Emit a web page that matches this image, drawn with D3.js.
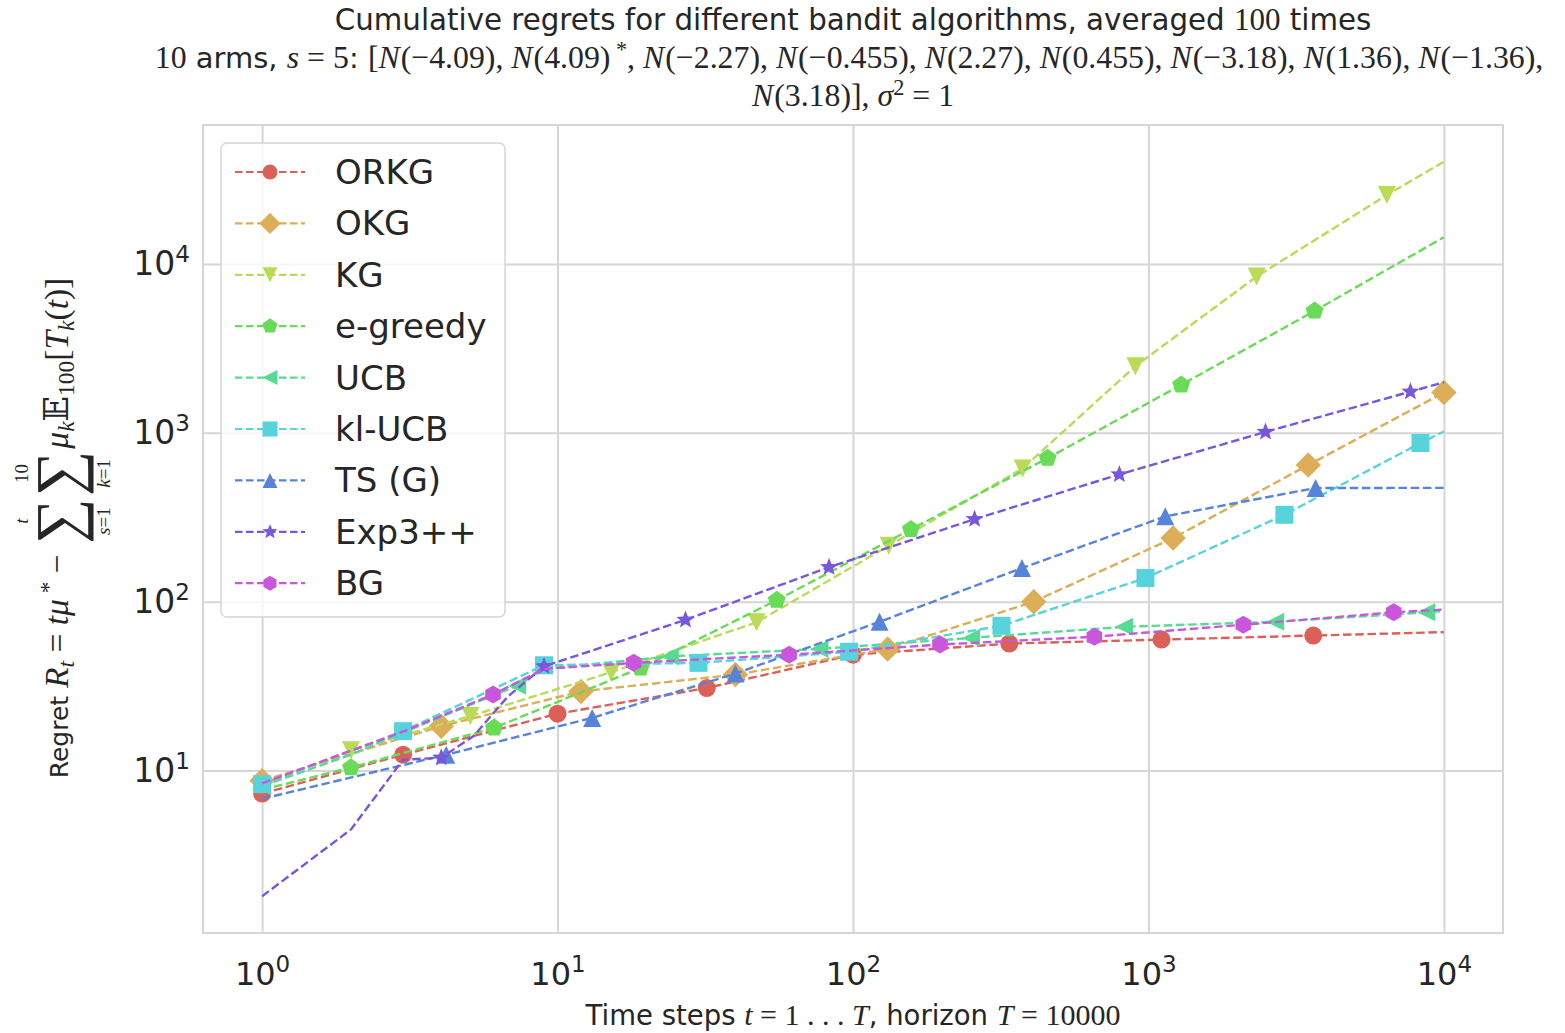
<!DOCTYPE html>
<html>
<head>
<meta charset="utf-8">
<script src="https://cdn.jsdelivr.net/npm/d3@7"></script>
<style>
  body { margin: 0; background: #fff; }
  text { fill: #262626; white-space: pre; }
</style>
</head>
<body>
<svg id="chart"></svg>
<script>
// ---- data ----
var algos   = ['ORKG', 'OKG', 'KG', 'e-greedy', 'UCB', 'kl-UCB', 'TS (G)', 'Exp3++', 'BG'];
var armMeans = [-4.09, 4.09, -2.27, -0.455, 2.27, 0.455, -3.18, 1.36, -1.36, 3.18];
var bestArm = 1;
var xTicks = [1, 10, 100, 1000, 10000];
var yTicks = [10, 100, 1000, 10000];

// each series: [t, regret]; the *Marks arrays list the t where a marker sits
var orkg = [[1,7.3],[3,12.4],[10,21.7],[32,30.8],[100,48.5],[338,56.5],[1107,59.6],[3612,63],[10000,66]];
var orkgMarks = [1,3,10,32,100,338,1107,3612];

var okg = [[1,8.7],[4.04,18.3],[12,29.4],[40,37],[131,52.5],[409,100],[1212,238],[3475,645],[10000,1730]];
var okgMarks = [1,4.04,12,40,131,409,1212,3475,10000];

var kg = [[1,8.2],[2,13.2],[5.07,21],[15.2,38.2],[47.2,75.5],[132,214],[375,615],[903,2480],[2323,8420],[6410,25600],[10000,40300]];
var kgMarks = [2,5.07,15.2,47.2,132,375,903,2323,6410];

var egreedy = [[1,7.7],[2,10.4],[6.1,17.9],[19.1,40.5],[55.2,102],[157,268],[456,708],[1291,1923],[3650,5270],[10000,14400]];
var egreedyMarks = [2,6.1,19.1,55.2,157,456,1291,3650];

var ucb = [[1,8.1],[2,12.4],[3,16.8],[7.3,31.8],[9,40],[24,47.4],[77,52.5],[251,61],[827,71],[2686,76],[8710,86.5],[10000,88]];
var ucbMarks = [1,7.3,24,77,251,827,2686,8710];

var klucb = [[1,8.3],[3,17.1],[9,42],[30,43.4],[97,50.5],[318,72],[977,138],[2885,327],[8330,870],[10000,1018]];
var klucbMarks = [1,3,9,30,97,318,977,2885,8330];

var ts = [[1,6.8],[4.2,12.4],[13.1,20.5],[40,37.5],[123,76],[373,158],[1140,320],[3680,471],[10000,472]];
var tsMarks = [4.2,13.1,40,123,373,1140,3680];

var exp3 = [[1,1.8],[2,4.48],[3,11.6],[4.04,11.9],[5.2,16],[6.8,27.5],[9,41.4],[27.1,78],[83,160],[258,308],[797,567],[2490,1012],[7700,1752],[10000,1990]];
var exp3Marks = [4.04,9,27.1,83,258,797,2490,7700];

var bg = [[1,8.4],[3,17],[6.05,28.2],[9,40],[18.1,43.4],[60.8,48.5],[197,55.7],[656,62],[2094,73],[6760,86.5],[10000,89.8]];
var bgMarks = [6.05,18.1,60.8,197,656,2094,6760];

var seriesData  = [orkg, okg, kg, egreedy, ucb, klucb, ts, exp3, bg];
var seriesMarks = [orkgMarks, okgMarks, kgMarks, egreedyMarks, ucbMarks, klucbMarks, tsMarks, exp3Marks, bgMarks];

// ---- style ----
var colors  = ['#db6057', '#dbae57', '#b9db57', '#69db57', '#57db94', '#57d3db', '#5784db', '#7957db', '#c957db'];
var shapes  = ['o', 'D', 'v', 'p', '<', 's', '^', '*', 'h'];
var width = 1565, height = 1033;
var plotL = 203, plotR = 1503, plotT = 125, plotB = 933;
var sans = 'DejaVu Sans, sans-serif';
var serif = 'Liberation Serif, DejaVu Serif, serif';
var gridColor = '#d6d6d6';
var dash = '8.5,3.7';

var svg = d3.select('#chart').attr('width', width).attr('height', height);

// log extent padded by 5% on each side, like matplotlib autoscale
function padLog(ext) {
  var a = Math.log10(ext[0]), b = Math.log10(ext[1]), m = (b - a) * 0.05;
  return [Math.pow(10, a - m), Math.pow(10, b + m)];
}
var allPts = d3.merge(seriesData);
var x = d3.scaleLog().domain(padLog(d3.extent(allPts, d => d[0]))).range([plotL, plotR]);
var y = d3.scaleLog().domain(padLog(d3.extent(allPts, d => d[1]))).range([plotB, plotT]);

// ---- grid ----
var xAxis = d3.axisBottom(x).tickValues(xTicks).tickSize(-(plotB - plotT)).tickFormat('');
var yAxis = d3.axisLeft(y).tickValues(yTicks).tickSize(-(plotR - plotL)).tickFormat('');

var gx = svg.append('g').attr('transform', 'translate(0,' + plotB + ')').call(xAxis);
var gy = svg.append('g').attr('transform', 'translate(' + plotL + ',0)').call(yAxis);
[gx, gy].forEach(function(g) {
  g.select('.domain').remove();
  g.selectAll('.tick line').attr('stroke', gridColor).attr('stroke-width', 2);
});

// tick labels 10^k
function powLabel(t, d) {
  t.append('tspan').text('10');
  t.append('tspan').attr('dy', -13).style('font-size', '23px').text(Math.round(Math.log10(d)));
}
gx.selectAll('.tick').append('text')
  .attr('y', 52).attr('text-anchor', 'middle')
  .style('font-family', sans).style('font-size', '32px')
  .each(function(d) { powLabel(d3.select(this), d); });
gy.selectAll('.tick').append('text')
  .attr('x', -13).attr('dy', 11).attr('text-anchor', 'end')
  .style('font-family', sans).style('font-size', '33px')
  .each(function(d) { powLabel(d3.select(this), d); });

// frame
svg.append('rect')
  .attr('x', plotL).attr('y', plotT)
  .attr('width', plotR - plotL).attr('height', plotB - plotT)
  .attr('fill', 'none').attr('stroke', gridColor).attr('stroke-width', 2);

// ---- markers shaped like matplotlib's ----
function markerPath(type, ms) {
  var h = ms / 2, pts, i;
  function poly(n, r) {
    var a = [];
    for (i = 0; i < n; i++) {
      var ang = i * 2 * Math.PI / n;
      a.push([r * Math.sin(ang), -r * Math.cos(ang)]);
    }
    return a;
  }
  switch (type) {
    case 'o': return d3.symbol(d3.symbolCircle, Math.PI * h * h)();
    case 's': pts = [[-h, -h], [h, -h], [h, h], [-h, h]]; break;
    case 'D': var d = h * Math.SQRT2; pts = [[0, -d], [d, 0], [0, d], [-d, 0]]; break;
    case '^': pts = [[0, -h], [h, h], [-h, h]]; break;
    case 'v': pts = [[0, h], [h, -h], [-h, -h]]; break;
    case '<': pts = [[-h, 0], [h, -h], [h, h]]; break;
    case 'p': pts = poly(5, h * 1.05); break;
    case 'h': pts = poly(6, h); break;
    case '*':
      pts = [];
      for (i = 0; i < 10; i++) {
        var r = i % 2 ? h * 0.45 : h * 1.05, a = i * Math.PI / 5;
        pts.push([r * Math.sin(a), -r * Math.cos(a)]);
      }
      break;
  }
  return 'M' + pts.join('L') + 'Z';
}

// ---- series ----
var line = d3.line().x(d => x(d[0])).y(d => y(d[1]));

seriesData.forEach(function(data, i) {
  var g = svg.append('g');
  g.append('path')
    .attr('d', line(data))
    .attr('fill', 'none')
    .attr('stroke', colors[i])
    .attr('stroke-width', 2.4)
    .attr('stroke-dasharray', dash);
  var marks = data.filter(d => seriesMarks[i].indexOf(d[0]) >= 0);
  g.selectAll('path.mark')
    .data(marks)
    .enter()
      .append('path')
        .attr('class', 'mark')
        .attr('d', markerPath(shapes[i], 18))
        .attr('transform', d => 'translate(' + x(d[0]) + ',' + y(d[1]) + ')')
        .attr('fill', colors[i]);
});

// ---- legend ----
var leg = svg.append('g');
leg.append('rect')
  .attr('x', 221).attr('y', 143).attr('width', 284).attr('height', 474).attr('rx', 6)
  .attr('fill', '#fff').attr('fill-opacity', 0.8)
  .attr('stroke', gridColor).attr('stroke-width', 1.5);
algos.forEach(function(name, i) {
  var cy = 172 + i * 51.4;
  leg.append('line')
    .attr('x1', 235).attr('x2', 305).attr('y1', cy).attr('y2', cy)
    .attr('stroke', colors[i]).attr('stroke-width', 2.2).attr('stroke-dasharray', '7.5,3.5');
  leg.append('path')
    .attr('d', markerPath(shapes[i], 15))
    .attr('transform', 'translate(270,' + cy + ')')
    .attr('fill', colors[i]);
  leg.append('text')
    .attr('x', 335).attr('y', cy + 12)
    .style('font-family', sans).style('font-size', '34px')
    .text(name);
});

// ---- math-ish text helper: lays pieces out left to right, then centres ----
// base = sans size, mb = math (serif) size
function mathText(parent, pieces, cx, cy, base, mb) {
  var g = parent.append('g');
  var pos = 0;
  pieces.forEach(function(p) {
    if (p.sum) {
      var s = g.append('text').attr('x', pos).attr('y', p.sy)
        .style('font-family', serif).style('font-size', p.ss + 'px').text('\u2211');
      var w = s.node().getComputedTextLength();
      g.append('text').attr('x', pos + w / 2).attr('y', p.hy).attr('text-anchor', 'middle')
        .style('font-family', serif).style('font-size', p.ls + 'px')
        .call(function(t) {
          if (/^[a-z]$/.test(p.hi)) t.style('font-style', 'italic');
          t.text(p.hi);
        });
      g.append('text').attr('x', pos + w / 2).attr('y', p.ly).attr('text-anchor', 'middle')
        .style('font-family', serif).style('font-size', p.ls + 'px')
        .call(function(t) {
          t.append('tspan').style('font-style', 'italic').text(p.lo[0]);
          t.append('tspan').text(p.lo.slice(1));
        });
      pos += w + (p.gap || 0);
      return;
    }
    var t = g.append('text').attr('x', pos).attr('y', p.dy || 0)
      .style('font-family', p.m ? serif : sans)
      .style('font-style', p.it ? 'italic' : 'normal')
      .style('font-size', ((p.m ? mb : base) * (p.k || 1)) + 'px')
      .text(p.t);
    pos += t.node().getComputedTextLength() + (p.gap || 0);
  });
  g.attr('transform', 'translate(' + (cx - pos / 2) + ',' + cy + ')');
  return g;
}

// ---- titles ----
var midX = (plotL + plotR) / 2;
mathText(svg, [
  { t: 'Cumulative regrets for different bandit algorithms, averaged ' },
  { t: '100', m: true },
  { t: ' times' }
], midX, 30, 29.3, 31);

function armPieces(k) {
  var p = [{ t: 'N', m: true, it: true, gap: 1 }, { t: '(' + String(armMeans[k]).replace('-', '\u2212') + ')', m: true }];
  if (k === bestArm) p.push({ t: ' *', m: true, k: 0.7, dy: -11 });
  return p;
}
var line2 = [{ t: '10', m: true }, { t: ' arms, ' }, { t: 's', m: true, it: true }, { t: ' = 5', m: true }, { t: ': ' }, { t: '[', m: true }];
for (var k = 0; k < 9; k++) {
  line2 = line2.concat(armPieces(k));
  line2.push({ t: ', ', m: true });
}
mathText(svg, line2, midX, 68, 29, 31.8);

var line3 = armPieces(9).concat([
  { t: '], ', m: true }, { t: '\u03c3', m: true, it: true }, { t: '2', m: true, k: 0.7, dy: -11 },
  { t: ' = 1', m: true }
]);
mathText(svg, line3, midX, 106, 29, 31.8);

// ---- x label ----
mathText(svg, [
  { t: 'Time steps ' }, { t: 't', m: true, it: true }, { t: ' = 1 . . . ', m: true },
  { t: 'T', m: true, it: true }, { t: ', horizon ' }, { t: 'T', m: true, it: true },
  { t: ' = 10000', m: true }
], midX, 1025, 27.5, 30);

// ---- y label (rotated) ----
var yl = svg.append('g').attr('transform', 'translate(68,528) rotate(-90)');
var sumOpts = { ss: 64, sy: 12, ls: 19, hy: -40, ly: 42, gap: 2 };
mathText(yl, [
  { t: 'Regret ' }, { t: 'R', m: true, it: true }, { t: 't', m: true, it: true, k: 0.7, dy: 6 },
  { t: ' = ', m: true }, { t: 't\u03bc', m: true, it: true }, { t: ' *', m: true, k: 0.7, dy: -12 },
  { t: ' \u2212 ', m: true, gap: 2 },
  Object.assign({ sum: true, hi: 't', lo: 's=1' }, sumOpts),
  Object.assign({ sum: true, hi: '10', lo: 'k=1' }, sumOpts),
  { t: '\u03bc', m: true, it: true }, { t: 'k', m: true, it: true, k: 0.7, dy: 6 },
  { t: '\ud835\udd3c', m: true }, { t: '100', m: true, k: 0.7, dy: 6 },
  { t: '[', m: true }, { t: 'T', m: true, it: true }, { t: 'k', m: true, it: true, k: 0.7, dy: 6 },
  { t: '(', m: true }, { t: 't', m: true, it: true }, { t: ')]', m: true }
], 0, 0, 25, 33.5);
</script>
</body>
</html>
